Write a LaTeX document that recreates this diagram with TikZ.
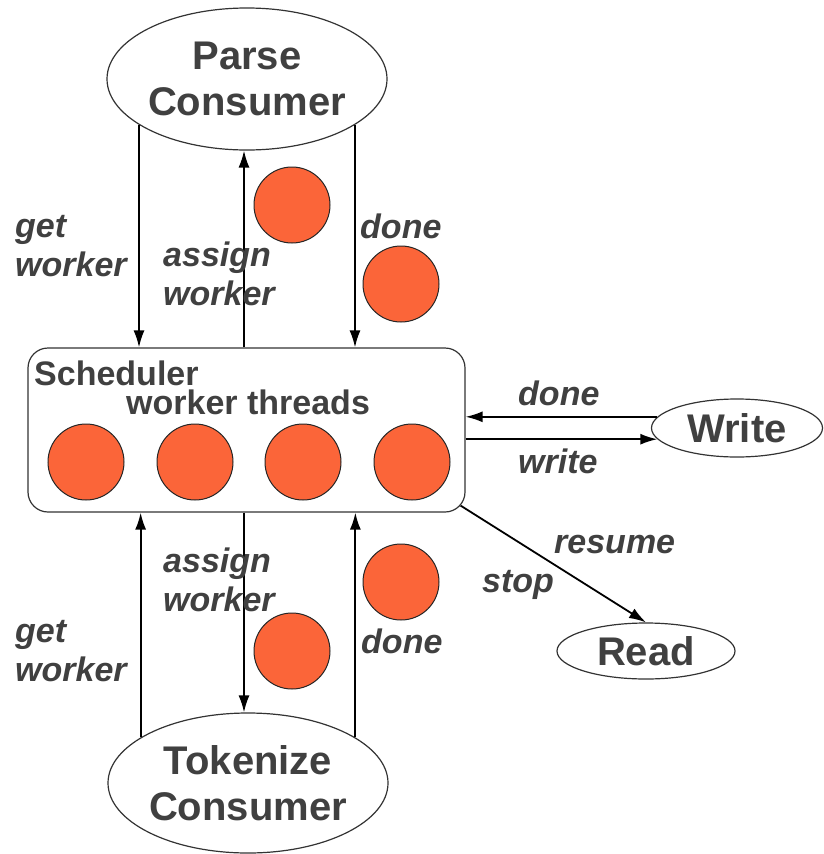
\documentclass[tikz,border=0pt]{standalone}
\usepackage{fontspec}
\setmainfont{Liberation Sans}
\usetikzlibrary{arrows.meta,shapes.geometric}
\definecolor{thread}{HTML}{FB6539}
\definecolor{ink}{HTML}{404040}
\begin{document}
\begin{tikzpicture}[
    x=1pt, y=1pt,
    consumer/.style={ellipse, draw=black!80, line width=1.2pt, inner sep=0pt, align=center, text=ink, font=\bfseries\fontsize{40}{46}\selectfont},
    worker/.style={circle, draw=black!85, line width=1pt, fill=thread, minimum size=76pt, inner sep=0pt},
    lbl/.style={anchor=base west, inner sep=0pt, align=left, text=ink, font=\bfseries\itshape\fontsize{34}{39}\selectfont},
    title/.style={anchor=base west, inner sep=0pt, text=ink, font=\bfseries\fontsize{34}{36}\selectfont},
    arrow/.style={-{Latex[length=17pt,width=11pt]}, line width=1.8pt}
]
\useasboundingbox (0,0) rectangle (823,-854);

% Consumers
\node[consumer, minimum width=280pt, minimum height=142pt] (parse) at (247,-79) {Parse\\Consumer};
\node[consumer, minimum width=280pt, minimum height=140pt] (tok) at (248,-783) {Tokenize\\Consumer};
\node[consumer, minimum width=171pt, minimum height=58pt] (write) at (737,-428) {Write};
\node[consumer, minimum width=178pt, minimum height=56pt] (read) at (646,-651) {Read};

% Scheduler with its worker threads
\node[draw=black!80, line width=1.2pt, rounded corners=20pt, minimum width=437pt, minimum height=164pt] (sched) at (246.5,-430) {};
\node[title] (schedname) at (34,-385) {Scheduler};
\node[title] (threads) at (126,-414) {worker threads};
\foreach \x [count=\n] in {86,195,303,412}
    \node[worker] (w\n) at (\x,-462) {};

% Workers on the way
\node[worker] (t1) at (292,-205) {};
\node[worker] (t2) at (401,-284) {};
\node[worker] (t3) at (401,-582) {};
\node[worker] (t4) at (292,-651) {};

% Parse <-> Scheduler
\draw[arrow] (parse.-157) -- (parse.-157 |- sched.north);
\draw[arrow] ([xshift=-3pt]sched.north -| parse.south) -- ([xshift=-3pt]parse.south);
\draw[arrow] (parse.-23) -- (parse.-23 |- sched.north);
\node[lbl] (getP) at (15,-276) {get\\worker};
\node[lbl] (assignP) at (163,-305) {assign\\worker};
\node[lbl] (doneP) at (360,-238) {done};

% Tokenize <-> Scheduler
\draw[arrow] (tok.157) -- (tok.157 |- sched.south);
\draw[arrow] ([xshift=-4pt]sched.south -| tok.north) -- ([xshift=-4pt]tok.north);
\draw[arrow] (tok.23) -- (tok.23 |- sched.south);
\node[lbl] (assignT) at (163,-611) {assign\\worker};
\node[lbl] (getT) at (15,-681) {get\\worker};
\node[lbl] (doneT) at (361,-653) {done};

% Write and Read
\draw[arrow] (write.172) -- (write.172 -| sched.east);
\draw[arrow] (sched.east |- write.188) -- (write.188);
\draw[arrow] ([shift={(-5pt,7pt)}]sched.south east) -- (read.north);
\node[lbl] (doneW) at (518,-405) {done};
\node[lbl] (writeW) at (518,-473) {write};
\node[lbl] (resume) at (554,-553) {resume};
\node[lbl] (stop) at (482,-592) {stop};

\end{tikzpicture}
\end{document}
